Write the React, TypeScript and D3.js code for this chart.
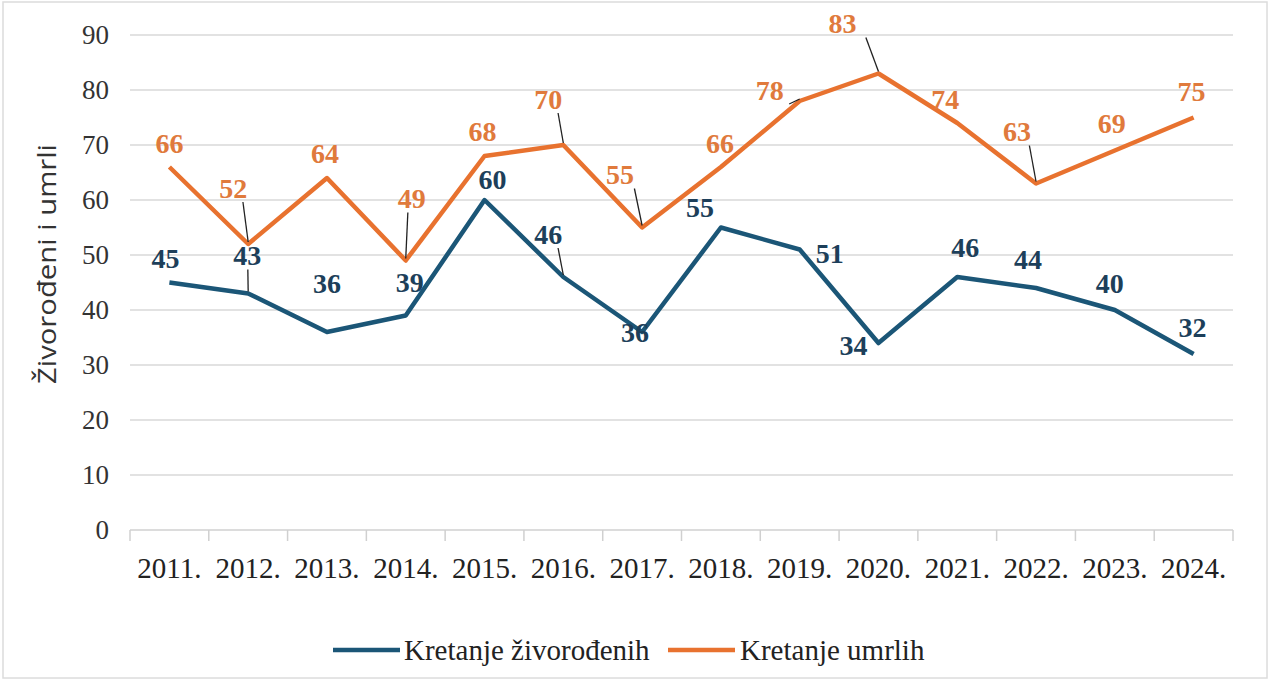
import React, { FC } from 'react'
import * as d3 from 'd3'

// podaci
const years = ['2011.', '2012.', '2013.', '2014.', '2015.', '2016.', '2017.', '2018.', '2019.', '2020.', '2021.', '2022.', '2023.', '2024.']
const born = [45, 43, 36, 39, 60, 46, 36, 55, 51, 34, 46, 44, 40, 32]
const died = [66, 52, 64, 49, 68, 70, 55, 66, 78, 83, 74, 63, 69, 75]
const yTicks = [0, 10, 20, 30, 40, 50, 60, 70, 80, 90]

// label placement (offset from point) and whether a leader line is drawn
const bornLabelPos: [number, number, boolean][] = [
	[-4, -24, false], [-1, -38, true], [0, -49, false], [4, -33, false], [8, -21, false],
	[-15, -43, true], [-7, 0, false], [-21, -20, false], [30, 4, false], [-25, 2, false],
	[8, -30, false], [-8, -29, false], [-5, -27, false], [-1, -27, false]
]
const diedLabelPos: [number, number, boolean][] = [
	[0, -24, false], [-15, -56, true], [-2, -25, false], [6, -62, true], [-2, -25, false],
	[-15, -46, true], [-22, -53, true], [-1, -24, false], [-30, -11, true], [-36, -50, true],
	[-12, -24, false], [-19, -52, true], [-3, -27, false], [-2, -26, false]
]

const W = 1281
const H = 683
const margin = { left: 130, right: 48, top: 35, bottom: 153 }
const BLUE = '#1b5677'
const ORANGE = '#e8722f'
const BLUE_TXT = '#1d3f5a'
const ORANGE_TXT = '#e07a3c'
const SERIF = "'Liberation Serif', 'Times New Roman', serif"
const SANS = "'Open Sans', 'Liberation Sans', sans-serif"

const App: FC = () => {
	const x = d3.scaleBand().domain(years).range([margin.left, W - margin.right])
	const y = d3.scaleLinear().domain([0, 90]).range([H - margin.bottom, margin.top])
	const cx = (i: number) => (x(years[i]) as number) + x.bandwidth() / 2
	const line = d3.line<number>().x((_, i) => cx(i)).y((d) => y(d))

	const labels = (vals: number[], pos: [number, number, boolean][], color: string) =>
		vals.map((v, i) => {
			const px = cx(i)
			const py = y(v)
			const [dx, dy, lead] = pos[i]
			return (
				<g key={i}>
					{lead && (
						<line x1={px + dx * 0.35} y1={py + dy + 14} x2={px} y2={py - 2} stroke="#222" strokeWidth={1.3} />
					)}
					<text x={px + dx} y={py + dy} dy="0.35em" textAnchor="middle" fill={color} fontSize={28} fontWeight="bold" style={{ fontFamily: SERIF }}>
						{v}
					</text>
				</g>
			)
		})

	const x0 = margin.left
	const x1 = W - margin.right
	const y0 = y(0)

	return (
		<svg width={W} height={H} style={{ position: 'absolute', left: 0, top: 0, background: '#fff' }}>
			<rect x={3} y={2} width={1264} height={676} fill="none" stroke="#dcdcdc" strokeWidth={1.5} />
			{/* mreža */}
			{yTicks.map((t) => (
				<g key={t}>
					{t > 0 && <line x1={x0} x2={x1} y1={y(t)} y2={y(t)} stroke="#d9d9d9" strokeWidth={1.5} />}
					<text x={109} y={y(t)} dy="0.35em" textAnchor="end" fontSize={27} fill="#333" style={{ fontFamily: SERIF }}>
						{t}
					</text>
				</g>
			))}
			<line x1={x0} x2={x1} y1={y0} y2={y0} stroke="#d0d0d0" strokeWidth={1.5} />
			{years.map((yr) => (
				<line key={yr} x1={x(yr) as number} x2={x(yr) as number} y1={y0} y2={y0 + 11} stroke="#d0d0d0" strokeWidth={1.5} />
			))}
			<line x1={x1} x2={x1} y1={y0} y2={y0 + 11} stroke="#d0d0d0" strokeWidth={1.5} />
			{years.map((yr, i) => (
				<text key={yr} x={cx(i)} y={568} dy="0.35em" textAnchor="middle" fontSize={29} fill="#222" style={{ fontFamily: SERIF }}>
					{yr}
				</text>
			))}
			<text
				transform="translate(47,264) rotate(-90)"
				textAnchor="middle"
				dy="0.35em"
				fontSize={25}
				fill="#333"
				textLength={240}
				lengthAdjust="spacingAndGlyphs"
				style={{ fontFamily: SANS }}
			>
				Živorođeni i umrli
			</text>
			{/* linije */}
			<path d={line(died) || ''} fill="none" stroke={ORANGE} strokeWidth={4.5} strokeLinejoin="round" />
			<path d={line(born) || ''} fill="none" stroke={BLUE} strokeWidth={4.5} strokeLinejoin="round" />
			{labels(died, diedLabelPos, ORANGE_TXT)}
			{labels(born, bornLabelPos, BLUE_TXT)}
			{/* legenda */}
			<line x1={333} x2={400} y1={650} y2={650} stroke={BLUE} strokeWidth={4.5} />
			<text x={404} y={650} dy="0.35em" fontSize={29} fill="#222" style={{ fontFamily: SERIF }}>
				Kretanje živorođenih
			</text>
			<line x1={668} x2={735} y1={650} y2={650} stroke={ORANGE} strokeWidth={4.5} />
			<text x={740} y={650} dy="0.35em" fontSize={29} fill="#222" style={{ fontFamily: SERIF }}>
				Kretanje umrlih
			</text>
		</svg>
	)
}

export default App
